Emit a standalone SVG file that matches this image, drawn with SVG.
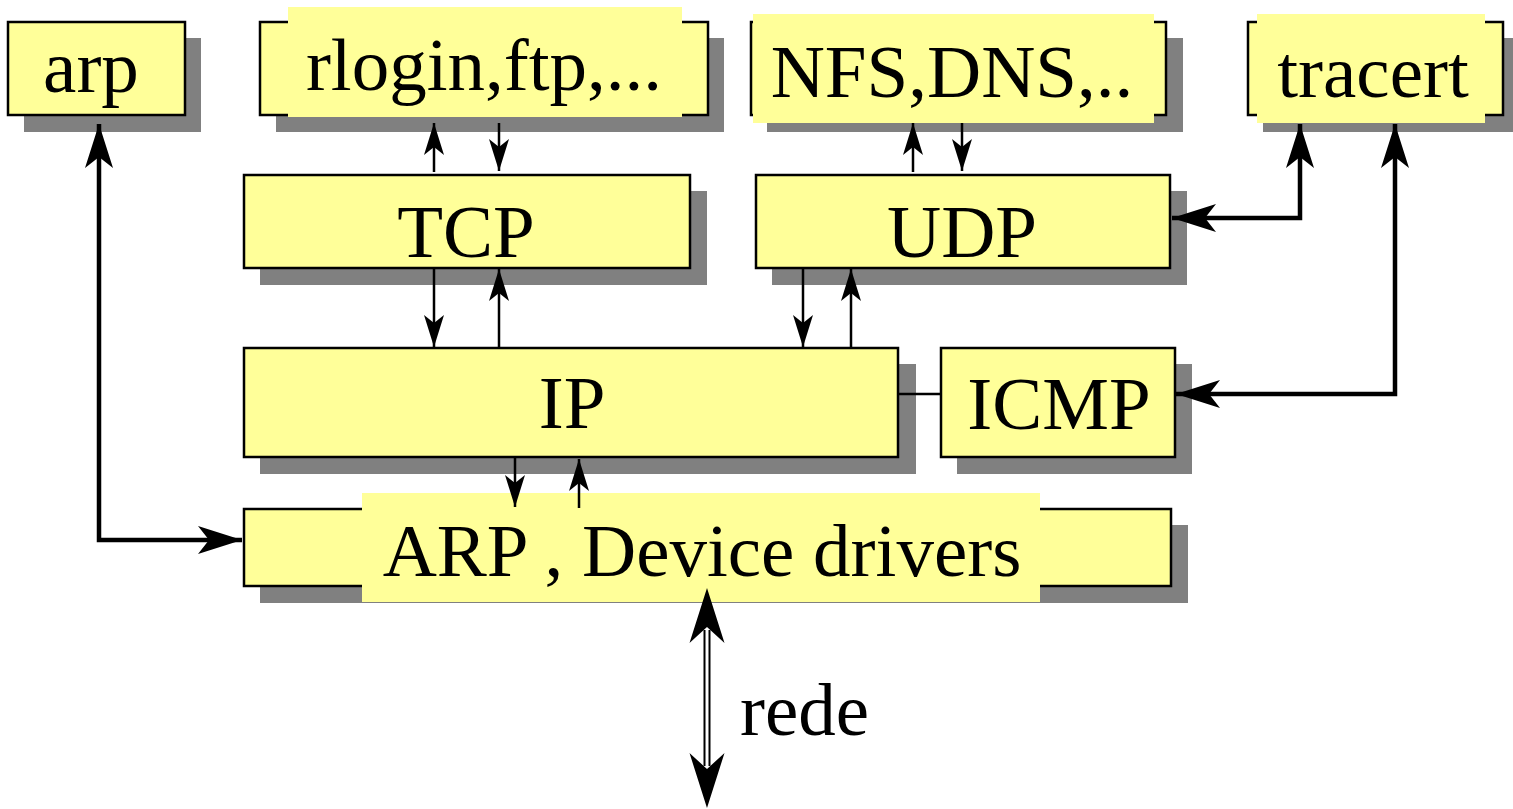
<svg xmlns="http://www.w3.org/2000/svg" width="1513" height="809" viewBox="0 0 1513 809">
<style>
.sh{fill:#808080}
.bx{fill:#FFFF99;stroke:#000;stroke-width:2.5}
.bg{fill:#FFFF99}
.t{font-family:"Liberation Serif","Times New Roman",serif;font-size:75px;fill:#000;text-anchor:middle}
.thin{fill:none;stroke:#000;stroke-width:2.5}
.thick{fill:none;stroke:#000;stroke-width:4.5;stroke-linejoin:miter}
</style>
<defs>
<marker id="ha" markerUnits="userSpaceOnUse" viewBox="-34 -12 36 24" refX="0" refY="0" markerWidth="36" markerHeight="24" orient="auto-start-reverse" overflow="visible">
<path d="M0,0 L-32,-10 L-24,0 L-32,10 Z" fill="#000"/>
</marker>
<marker id="hb" markerUnits="userSpaceOnUse" viewBox="-46 -16 48 32" refX="0" refY="0" markerWidth="48" markerHeight="32" orient="auto-start-reverse" overflow="visible">
<path d="M0,0 L-44,-14 L-33,0 L-44,14 Z" fill="#000"/>
</marker>
</defs>
<rect width="1513" height="809" fill="#fff"/>

<g id="node-arp">
<rect class="sh" x="24" y="38" width="177" height="94"/>
<rect class="bx" x="8" y="22" width="177" height="93"/>
<text class="t" x="91" y="92">arp</text>
</g>
<g id="node-rlogin">
<rect class="sh" x="276" y="38" width="448" height="94"/>
<rect class="bx" x="260" y="22" width="448" height="93"/>
<rect class="bg" x="288" y="7" width="394" height="110"/>
<text class="t" x="484" y="90">rlogin,ftp,...</text>
</g>
<g id="node-nfs">
<rect class="sh" x="767" y="38" width="416" height="94"/>
<rect class="bx" x="751" y="22" width="415" height="93"/>
<rect class="bg" x="753" y="14" width="401" height="109"/>
<text class="t" x="952" y="97">NFS,DNS,..</text>
</g>
<g id="node-tracert">
<rect class="sh" x="1263" y="38" width="255" height="94"/>
<rect class="bx" x="1248" y="22" width="255" height="93"/>
<rect class="bg" x="1257" y="14" width="228" height="109"/>
<text class="t" x="1373" y="97">tracert</text>
</g>
<g id="node-tcp">
<rect class="sh" x="260" y="191" width="447" height="94"/>
<rect class="bx" x="244" y="175" width="446" height="93"/>
<text class="t" x="466" y="257">TCP</text>
</g>
<g id="node-udp">
<rect class="sh" x="772" y="191" width="415" height="94"/>
<rect class="bx" x="756" y="175" width="414" height="93"/>
<text class="t" x="962" y="257">UDP</text>
</g>
<g id="node-ip">
<rect class="sh" x="260" y="364" width="656" height="110"/>
<rect class="bx" x="244" y="348" width="654" height="109"/>
<text class="t" x="572" y="428">IP</text>
</g>
<g id="node-icmp">
<rect class="sh" x="957" y="364" width="235" height="110"/>
<rect class="bx" x="941" y="348" width="234" height="109"/>
<text class="t" x="1059" y="429">ICMP</text>
</g>
<g id="node-arp-dd">
<rect class="sh" x="260" y="525" width="928" height="78"/>
<rect class="bx" x="244" y="509" width="927" height="77"/>
<rect class="bg" x="362" y="493" width="678" height="109"/>
<text class="t" x="702" y="576">ARP , Device drivers</text>
</g>

<g id="connectors">
<path class="thick" d="M242,540 H99 V124" marker-start="url(#hb)" marker-end="url(#hb)"/>
<path class="thin" d="M434,172 V123" marker-end="url(#ha)"/>
<path class="thin" d="M499,123 V171" marker-end="url(#ha)"/>
<path class="thin" d="M913,172 V123" marker-end="url(#ha)"/>
<path class="thin" d="M962,123 V171" marker-end="url(#ha)"/>
<path class="thin" d="M434,268 V347" marker-end="url(#ha)"/>
<path class="thin" d="M499,348 V269" marker-end="url(#ha)"/>
<path class="thin" d="M803,268 V347" marker-end="url(#ha)"/>
<path class="thin" d="M851,348 V269" marker-end="url(#ha)"/>
<path class="thin" d="M515,457 V507" marker-end="url(#ha)"/>
<path class="thin" d="M579,508 V459" marker-end="url(#ha)"/>
<path class="thin" d="M898,394 H941"/>
<path class="thick" d="M1172,218 H1300 V124" marker-start="url(#hb)" marker-end="url(#hb)"/>
<path class="thick" d="M1176,394 H1395 V124" marker-start="url(#hb)" marker-end="url(#hb)"/>
<g id="rede-link">
<path d="M707,630 V766" stroke="#000" stroke-width="7" fill="none"/>
<path d="M707,626 V770" stroke="#fff" stroke-width="3" fill="none"/>
<path d="M707,588 L689.5,643 L707,627 L724.5,643 Z" fill="#000"/>
<path d="M707,808 L689.5,753 L707,769 L724.5,753 Z" fill="#000"/>
</g>
<text class="t" x="740" y="735" style="text-anchor:start">rede</text>
</g>
</svg>
